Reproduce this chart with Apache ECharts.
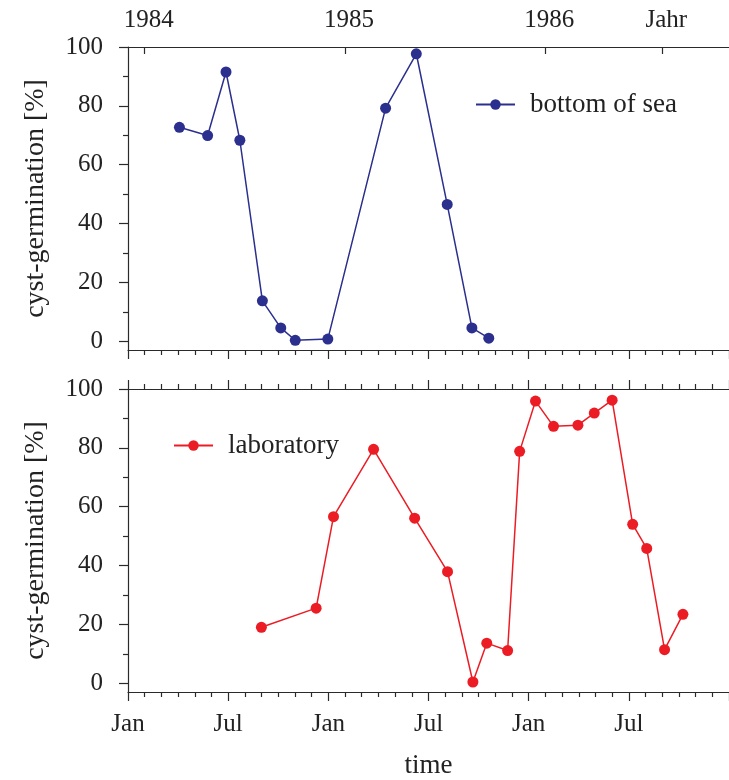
<!DOCTYPE html>
<html><head><meta charset="utf-8">
<script src="https://cdn.jsdelivr.net/npm/echarts@6.0.0/dist/echarts.min.js"></script>
<style>html,body{margin:0;padding:0;background:#fff}#c{width:729px;height:780px}</style>
</head><body><div id="c"></div>
<script>
// x values: months counted from 1 Jan 1984
const seaMonths = [3.08, 4.77, 5.87, 6.70, 8.05, 9.15, 10.02, 11.97, 15.43, 17.27, 19.12, 20.6, 21.61];
const seaValues = [72.7, 69.9, 91.5, 68.3, 13.7, 4.5, 0.3, 0.7, 79.2, 97.7, 46.5, 4.5, 1.0];
const labMonths = [7.99, 11.27, 12.31, 14.71, 17.17, 19.14, 20.66, 21.49, 22.74, 23.46, 24.41, 25.49, 26.95, 27.93, 29.0, 30.23, 31.07, 32.14, 33.24];
const labValues = [19.0, 25.5, 56.6, 79.5, 56.1, 37.9, 0.4, 13.6, 11.1, 78.8, 95.9, 87.3, 87.7, 91.8, 96.2, 54.0, 45.8, 11.4, 23.4];
const monthTickLabels = ['Jan', 'Jul', 'Jan', 'Jul', 'Jan', 'Jul'];
const yearTickMonths = [1, 13, 25, 32];
const yearTickLabels = ['1984', '1985', '1986', 'Jahr'];
const yMajorTicks = [0, 20, 40, 60, 80, 100];
const yMinorTicks = [10, 30, 50, 70, 90];
const seriesNames = ['bottom of sea', 'laboratory'];
const yName = 'cyst-germination [%]';
const xName = 'time';

const F = 'Liberation Serif';
const TXT = '#222';
const AX = '#2a2a2a';
const SEA = '#2b2f8e';
const LAB = '#ec1c24';
const lineS = {color: AX, width: 1.2};

function xAx(grid, pos, withLabels) {
  return {
    type: 'value', gridIndex: grid, position: pos, min: 0, max: 36, interval: 6,
    axisLine: {show: true, onZero: false, lineStyle: lineS},
    splitLine: {show: false},
    axisTick: {show: true, inside: false, length: 9, lineStyle: lineS},
    minorTick: {show: true, splitNumber: 6, length: 5, lineStyle: lineS},
    minorSplitLine: {show: false},
    axisLabel: withLabels ? {
      show: true, margin: 20, fontFamily: F, fontSize: 25, color: TXT,
      showMaxLabel: false,
      formatter: v => monthTickLabels[Math.round(v / 6)] || ''
    } : {show: false},
    name: withLabels ? xName : '',
    nameLocation: 'middle', nameGap: 60,
    nameTextStyle: {fontFamily: F, fontSize: 27, color: TXT}
  };
}
function yearAx() {
  return {
    type: 'value', gridIndex: 0, position: 'top', min: 0, max: 36,
    axisLine: {show: true, onZero: false, lineStyle: lineS},
    splitLine: {show: false},
    axisTick: {show: true, inside: true, length: 7, customValues: yearTickMonths, lineStyle: lineS},
    minorTick: {show: false},
    axisLabel: {
      show: true, customValues: yearTickMonths, margin: 14, fontFamily: F, fontSize: 25, color: TXT,
      padding: [0, 0, 0, 8],
      formatter: v => yearTickLabels[yearTickMonths.indexOf(v)]
    }
  };
}
function yMain(grid) {
  return {
    type: 'value', gridIndex: grid, position: 'left', min: -3, max: 100,
    axisLine: {show: true, onZero: false, lineStyle: lineS},
    splitLine: {show: false},
    axisTick: {show: true, length: 9, customValues: yMajorTicks, lineStyle: lineS},
    axisLabel: {show: true, customValues: yMajorTicks, margin: 25, fontFamily: F, fontSize: 25, color: TXT},
    name: yName, nameLocation: 'middle', nameGap: 78,
    nameTextStyle: {fontFamily: F, fontSize: 28, color: TXT}
  };
}
function yMinor(grid) {
  return {
    type: 'value', gridIndex: grid, position: 'left', min: -3, max: 100,
    axisLine: {show: false},
    splitLine: {show: false},
    axisTick: {show: true, length: 5, customValues: yMinorTicks, lineStyle: lineS},
    axisLabel: {show: false}
  };
}
function legendAt(name, left, top) {
  return {
    data: [name], left: left, top: top, padding: 0, itemWidth: 39, itemHeight: 13,
    selectedMode: false,
    textStyle: {fontFamily: F, fontSize: 27, color: TXT, padding: [0, 0, 0, 10]}
  };
}
function lineSeries(name, months, values, color, xi, yi) {
  return {
    type: 'line', name: name, xAxisIndex: xi, yAxisIndex: yi,
    data: months.map((m, i) => [m, values[i]]),
    symbol: 'circle', symbolSize: 11, showSymbol: true,
    itemStyle: {color: color}, lineStyle: {color: color, width: 1.5},
    emphasis: {disabled: true}, z: 3
  };
}

const chart = echarts.init(document.getElementById('c'), null, {renderer: 'canvas'});
chart.setOption({
  animation: false,
  backgroundColor: '#fff',
  grid: [
    {left: 128, right: -4, top: 47, height: 303},
    {left: 128, right: -4, top: 389, height: 303}
  ],
  xAxis: [xAx(0, 'bottom', false), yearAx(), xAx(1, 'bottom', true), xAx(1, 'top', false)],
  yAxis: [yMain(0), yMinor(0), yMain(1), yMinor(1)],
  legend: [legendAt(seriesNames[0], 475, 91), legendAt(seriesNames[1], 173, 432)],
  series: [
    lineSeries(seriesNames[0], seaMonths, seaValues, SEA, 0, 0),
    lineSeries(seriesNames[1], labMonths, labValues, LAB, 2, 2)
  ]
});
</script>
</body></html>
